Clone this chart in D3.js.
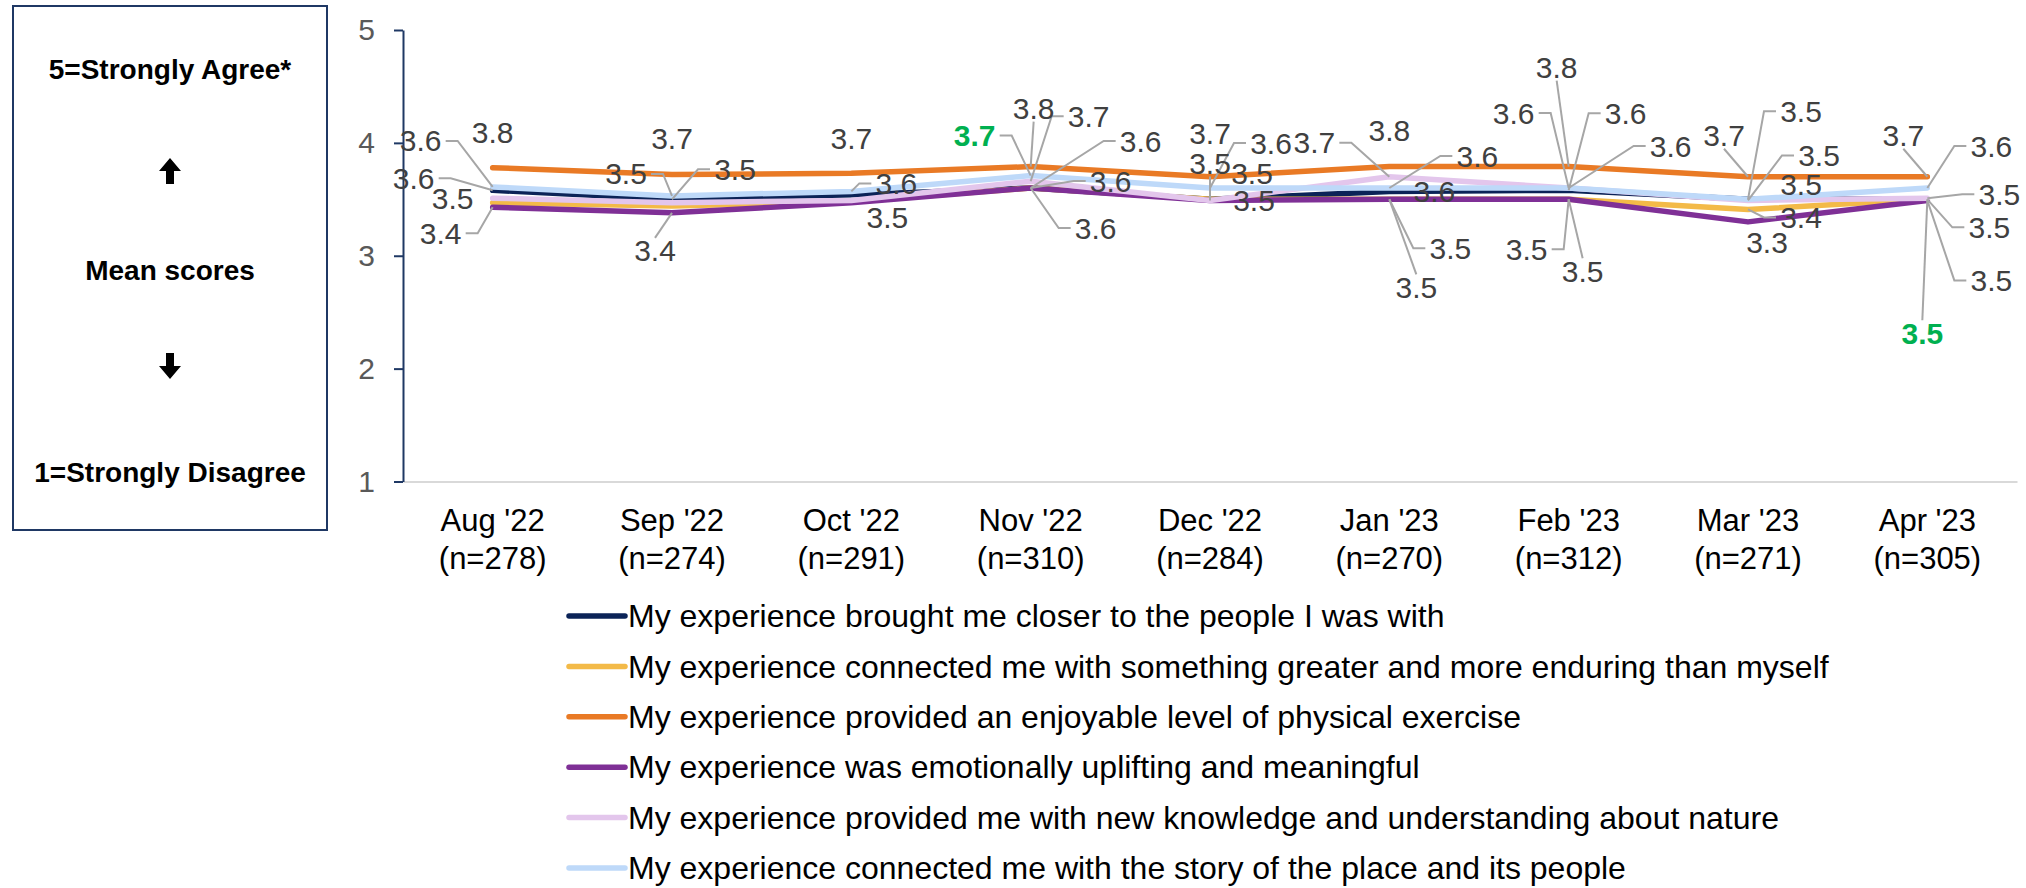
<!DOCTYPE html>
<html lang="en">
<head>
<meta charset="utf-8">
<title>Experience mean scores by month</title>
<script src="https://cdn.jsdelivr.net/npm/d3@7"></script>
<style>
  body { margin: 0; background: #fff; }
  svg { display: block; font-family: "Liberation Sans", Arial, sans-serif; }
</style>
</head>
<body>
<svg id="chart" width="2026" height="888"></svg>
<script>
// ---- data ----
const months = ["Aug '22", "Sep '22", "Oct '22", "Nov '22", "Dec '22", "Jan '23", "Feb '23", "Mar '23", "Apr '23"];
const sampleSizes = ["(n=278)", "(n=274)", "(n=291)", "(n=310)", "(n=284)", "(n=270)", "(n=312)", "(n=271)", "(n=305)"];
const statements = [
  "My experience brought me closer to the people I was with",
  "My experience connected me with something greater and more enduring than myself",
  "My experience provided an enjoyable level of physical exercise",
  "My experience was emotionally uplifting and meaningful",
  "My experience provided me with new knowledge and understanding about nature",
  "My experience connected me with the story of the place and its people"
];
const closerToPeople  = [3.58, 3.50, 3.54, 3.60, 3.50, 3.57, 3.58, 3.50, 3.50];
const somethingGreater = [3.47, 3.44, 3.48, 3.60, 3.50, 3.50, 3.50, 3.41, 3.50];
const physicalExercise = [3.78, 3.72, 3.73, 3.79, 3.70, 3.79, 3.79, 3.70, 3.70];
const upliftingMeaning = [3.43, 3.38, 3.47, 3.60, 3.49, 3.50, 3.50, 3.30, 3.49];
const natureKnowledge  = [3.51, 3.47, 3.49, 3.66, 3.49, 3.70, 3.60, 3.49, 3.51];
const placeStory       = [3.61, 3.53, 3.57, 3.71, 3.60, 3.60, 3.60, 3.50, 3.60];
const yTicks = [1, 2, 3, 4, 5];
// [series index, month index] of labels shown in bold green
const highlighted = [[5, 3], [1, 8]];

const seriesValues = [closerToPeople, somethingGreater, physicalExercise, upliftingMeaning, natureKnowledge, placeStory];
const colors = ["#0B2357", "#F3BA48", "#E97A25", "#7F3096", "#E3C6EC", "#BED9F9"];

// label placement relative to each point: [dx, dy, leader line?] or null = hidden
const labelLayout = [
  [[-79,-12,1], [63,-30,1], null, [110,-47,1], [42,-26,0], [45,0,0], [57,-77,1], [53,-15,0], [62,28,1]],
  [null, null, null, [80,-7,1], null, [27,88,1], [14,72,1], [53,8,1], [-5,134,1]],
  [[0,-35,0], [0,-36,0], [0,-35,0], [3,-58,1], [0,-43,0], [0,-36,0], [-12,-99,1], [-24,-41,1], [-24,-41,1]],
  [[-52,26,1], [-17,38,1], [36,15,0], [65,40,1], [44,0,0], [61,49,1], [-42,50,1], [19,21,0], [64,80,1]],
  [[-40,0,0], null, null, [58,-65,1], [0,-37,1], [-75,-34,1], [-55,-75,1], [71,-45,1], [72,-4,1]],
  [[-72,-46,1], [-46,-22,1], [45,-8,1], [-56,-40,1], [61,-45,1], [88,-32,1], [102,-42,1], [53,-88,1], [64,-42,1]]
];

// ---- layout ----
const plot = {left: 403, right: 2017, top: 30, bottom: 481.5};
const svg = d3.select("#chart");

const x = d3.scaleBand().domain(months).range([plot.left, plot.right]);
const y = d3.scaleLinear().domain([1, 5]).range([plot.bottom, plot.top]);
const cx = i => x(months[i]) + x.bandwidth() / 2;

// ---- left explanation box ----
const box = svg.append("g");
box.append("rect")
  .attr("x", 13).attr("y", 6).attr("width", 314).attr("height", 524)
  .attr("fill", "none").attr("stroke", "#1F3864").attr("stroke-width", 2);

const boxText = [["5=Strongly Agree*", 69], ["Mean scores", 270], ["1=Strongly Disagree", 472]];
box.selectAll("text.boxlabel")
  .data(boxText).enter()
  .append("text")
  .attr("class", "boxlabel")
  .attr("x", 170).attr("y", d => d[1]).attr("dy", "0.35em")
  .attr("text-anchor", "middle")
  .attr("font-size", 28).attr("font-weight", "bold").attr("fill", "#000")
  .text(d => d[0]);

// thick arrows
const arrow = "M0,-13 L11,0 L4,0 L4,13 L-4,13 L-4,0 L-11,0 Z";
box.append("path").attr("d", arrow).attr("transform", "translate(170,171)").attr("fill", "#000");
box.append("path").attr("d", arrow).attr("transform", "translate(170,366) rotate(180)").attr("fill", "#000");

// ---- axes ----
const xAxis = svg.append("g")
  .attr("transform", `translate(0,${plot.bottom})`)
  .call(d3.axisBottom(x).tickSize(0).tickSizeOuter(0));
xAxis.select(".domain").attr("stroke", "#D9D9D9").attr("stroke-width", 2);
xAxis.selectAll(".tick text").each(function(d, i) {
  const t = d3.select(this).text(null).attr("y", 0).attr("dy", null)
    .attr("font-size", 31).attr("fill", "#000").attr("font-family", "Liberation Sans, Arial, sans-serif");
  t.append("tspan").attr("x", 0).attr("y", 39).attr("dy", "0.35em").text(d);
  t.append("tspan").attr("x", 0).attr("y", 77).attr("dy", "0.35em").text(sampleSizes[i]);
});

const yAxis = svg.append("g")
  .attr("transform", `translate(${plot.left},0)`)
  .call(d3.axisLeft(y).tickValues(yTicks).tickFormat(d3.format("d")).tickSize(9).tickSizeOuter(0).tickPadding(19));
yAxis.select(".domain").attr("stroke", "#1F3864").attr("stroke-width", 2);
yAxis.selectAll(".tick line").attr("stroke", "#1F3864").attr("stroke-width", 2);
yAxis.selectAll(".tick text")
  .attr("font-size", 30).attr("fill", "#595959")
  .attr("font-family", "Liberation Sans, Arial, sans-serif");

// ---- lines ----
const line = d3.line().x((d, i) => cx(i)).y(d => y(d));
svg.append("g").selectAll("path")
  .data(seriesValues).enter()
  .append("path")
  .attr("d", line)
  .attr("fill", "none")
  .attr("stroke", (d, i) => colors[i])
  .attr("stroke-width", 5.5)
  .attr("stroke-linejoin", "round")
  .attr("stroke-linecap", "round");

// ---- data labels with leader lines ----
const fmt = d3.format(".1f");
const labels = [];
seriesValues.forEach((vals, s) => {
  vals.forEach((v, i) => {
    const l = labelLayout[s][i];
    if (!l) return;
    const px = cx(i), py = y(v);
    labels.push({
      v, px, py, lx: px + l[0], ly: py + l[1], leader: l[2],
      hot: highlighted.some(h => h[0] === s && h[1] === i)
    });
  });
});

const hw = 21, hh = 13;
svg.append("g").selectAll("path")
  .data(labels.filter(d => d.leader)).enter()
  .append("path")
  .attr("d", d => {
    const dx = d.lx - d.px;
    if (Math.abs(dx) > 32) {
      const side = Math.sign(dx);
      const s1 = d.lx - side * (hw + 4), s2 = s1 - side * 12;
      return `M${s1},${d.ly}L${s2},${d.ly}L${d.px},${d.py}`;
    }
    const sy = d.ly - Math.sign(d.ly - d.py) * hh;
    return `M${d.lx},${sy}L${d.px},${d.py}`;
  })
  .attr("fill", "none")
  .attr("stroke", "#A6A6A6")
  .attr("stroke-width", 2);

svg.append("g").selectAll("text")
  .data(labels).enter()
  .append("text")
  .attr("x", d => d.lx).attr("y", d => d.ly).attr("dy", "0.35em")
  .attr("text-anchor", "middle")
  .attr("font-size", 30)
  .attr("font-weight", d => d.hot ? "bold" : "normal")
  .attr("fill", d => d.hot ? "#00B050" : "#404040")
  .text(d => fmt(d.v));

// ---- legend ----
const legend = svg.append("g").selectAll("g")
  .data(statements).enter()
  .append("g")
  .attr("transform", (d, i) => `translate(569,${616 + i * 50.4})`);
legend.append("line")
  .attr("x1", 0).attr("x2", 56)
  .attr("stroke", (d, i) => colors[i])
  .attr("stroke-width", 5.5)
  .attr("stroke-linecap", "round");
legend.append("text")
  .attr("x", 59).attr("dy", "0.35em")
  .attr("font-size", 32).attr("fill", "#000")
  .text(d => d);
</script>
</body>
</html>
